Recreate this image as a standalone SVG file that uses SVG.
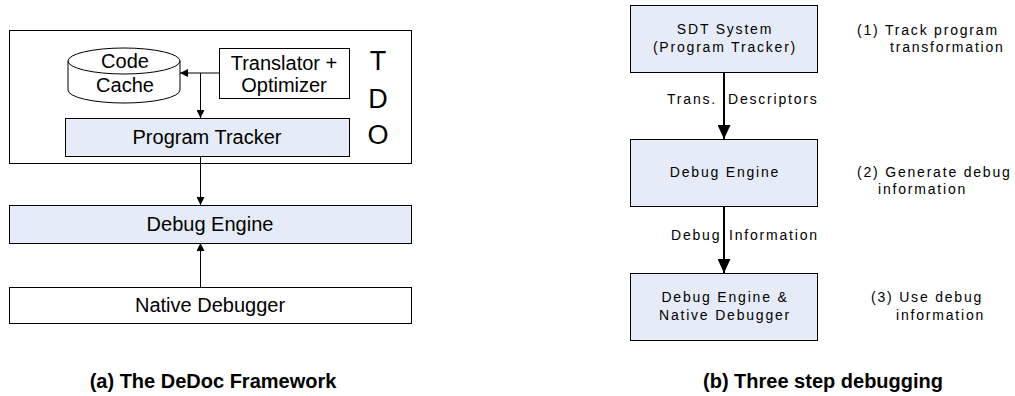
<svg xmlns="http://www.w3.org/2000/svg" width="1015" height="396" viewBox="0 0 1015 396">
  <style>
    .box { stroke: #000; stroke-width: 1; }
    .plain { fill: #fff; }
    .tint { fill: #E6ECF7; }
    .lbl { font-family: "Liberation Sans", Arial, sans-serif; font-size: 20px; fill: #000; text-anchor: middle; }
    .big { font-family: "Liberation Sans", Arial, sans-serif; font-size: 27px; fill: #000; text-anchor: middle; }
    .sm { font-family: "Liberation Sans", Arial, sans-serif; font-size: 14px; fill: #000; letter-spacing: 1.8px; }
    .mid { text-anchor: middle; }
    .cap { font-family: "Liberation Sans", Arial, sans-serif; font-size: 20px; font-weight: bold; fill: #000; text-anchor: middle; }
    .thin { stroke: #000; stroke-width: 1; fill: none; }
    .thick { stroke: #000; stroke-width: 2; fill: none; }
  </style>
  <defs>
    <marker id="headS" viewBox="0 0 10 10" refX="10" refY="5" markerWidth="8" markerHeight="8" markerUnits="userSpaceOnUse" orient="auto">
      <path d="M0,0 L10,5 L0,10 Z" fill="#000"/>
    </marker>
    <marker id="headL" viewBox="0 0 10 10" refX="10" refY="5" markerWidth="14" markerHeight="13" markerUnits="userSpaceOnUse" orient="auto" preserveAspectRatio="none">
      <path d="M0,0 L10,5 L0,10 Z" fill="#000"/>
    </marker>
  </defs>
  <rect width="1015" height="396" fill="#fff"/>

  <!-- (a) framework -->
  <g id="tdo">
    <rect class="box plain" x="9.5" y="30.5" width="402" height="133"/>
    <text class="big" x="378" y="70">T</text>
    <text class="big" x="378" y="108">D</text>
    <text class="big" x="378" y="144">O</text>
  </g>
  <g id="code-cache">
    <path class="box plain" d="M68,61 A56,13 0 0,1 180,61 L180,90 A56,13 0 0,1 68,90 Z"/>
    <path class="thin" d="M68,61 A56,13 0 0,0 180,61"/>
    <text class="lbl" x="125" y="68">Code</text>
    <text class="lbl" x="125" y="92">Cache</text>
  </g>
  <g id="translator">
    <rect class="box plain" x="219.5" y="48.5" width="130" height="50"/>
    <text class="lbl" x="284" y="70">Translator +</text>
    <text class="lbl" x="284" y="92">Optimizer</text>
  </g>
  <g id="program-tracker">
    <rect class="box tint" x="65.5" y="118.5" width="284" height="38"/>
    <text class="lbl" x="207" y="144">Program Tracker</text>
  </g>
  <g id="debug-engine">
    <rect class="box tint" x="9.5" y="205.5" width="402" height="38"/>
    <text class="lbl" x="210" y="231">Debug Engine</text>
  </g>
  <g id="native-debugger">
    <rect class="box plain" x="9.5" y="287.5" width="402" height="36"/>
    <text class="lbl" x="210" y="312">Native Debugger</text>
  </g>
  <text class="cap" x="213" y="388">(a) The DeDoc Framework</text>

  <!-- (b) three steps -->
  <g id="sdt-system">
    <rect class="box tint" x="630.5" y="5.5" width="187" height="67"/>
    <text class="sm mid" x="725" y="34">SDT System</text>
    <text class="sm mid" x="725" y="52">(Program Tracker)</text>
  </g>
  <g id="debug-engine-b">
    <rect class="box tint" x="630.5" y="139.5" width="187" height="67"/>
    <text class="sm mid" x="725" y="177">Debug Engine</text>
  </g>
  <g id="engine-and-debugger">
    <rect class="box tint" x="630.5" y="273.5" width="187" height="67"/>
    <text class="sm mid" x="725" y="302">Debug Engine &amp;</text>
    <text class="sm mid" x="725" y="320">Native Debugger</text>
  </g>
  <g id="steps">
    <text class="sm" x="857" y="35">(1) Track program</text>
    <text class="sm" x="890" y="52">transformation</text>
    <text class="sm" x="857" y="177">(2) Generate debug</text>
    <text class="sm" x="878" y="194">information</text>
    <text class="sm" x="871" y="302">(3) Use debug</text>
    <text class="sm" x="896" y="320">information</text>
  </g>
  <text class="cap" x="823" y="388">(b) Three step debugging</text>

  <g id="connectors">
    <line class="thin" x1="219" y1="73" x2="180" y2="73" marker-end="url(#headS)"/>
    <line class="thin" x1="200.5" y1="73" x2="200.5" y2="118" marker-end="url(#headS)"/>
    <line class="thin" x1="200.5" y1="156" x2="200.5" y2="205" marker-end="url(#headS)"/>
    <line class="thin" x1="200.5" y1="287" x2="200.5" y2="243" marker-end="url(#headS)"/>
    <line class="thick" x1="724" y1="72" x2="724" y2="139" marker-end="url(#headL)"/>
    <line class="thick" x1="724" y1="206" x2="724" y2="273" marker-end="url(#headL)"/>
    <text class="sm" x="667" y="104">Trans.</text>
    <text class="sm" x="728" y="104">Descriptors</text>
    <text class="sm" x="671" y="240">Debug</text>
    <text class="sm" x="729" y="240">Information</text>
  </g>
</svg>
